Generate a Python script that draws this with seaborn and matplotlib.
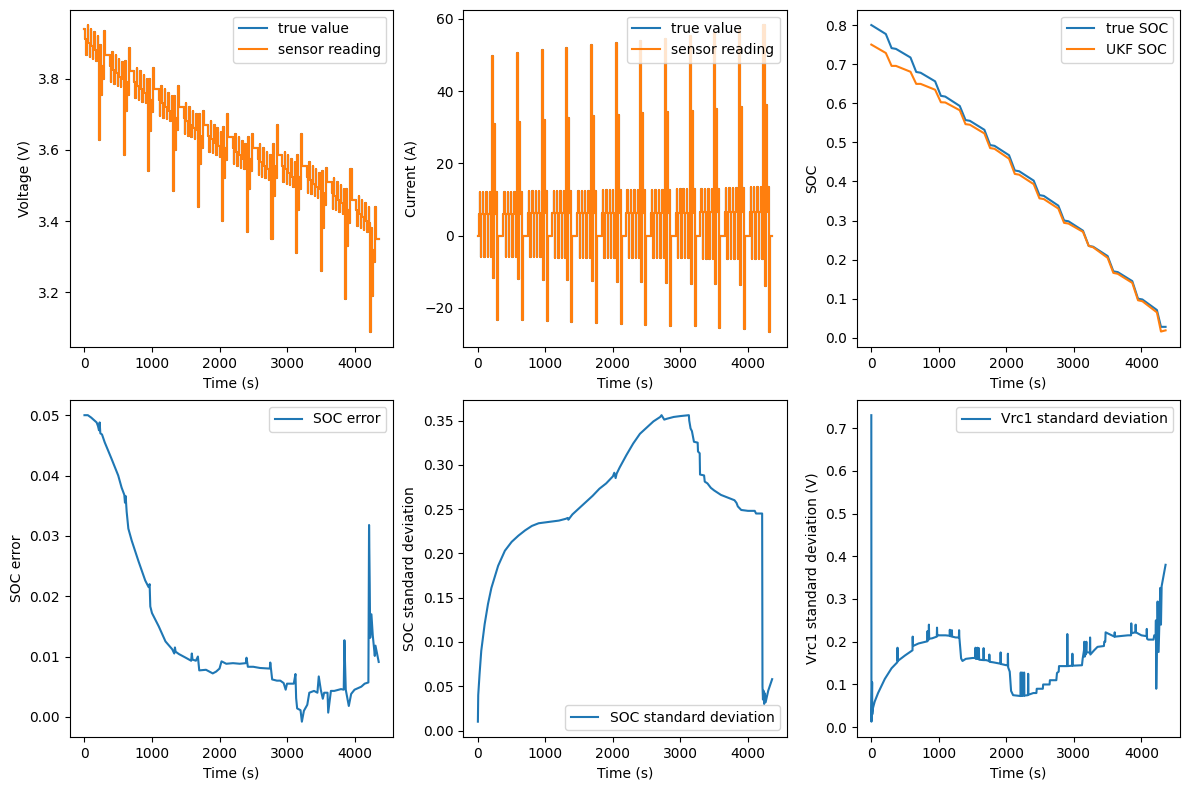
import numpy as np
import pandas as pd
import matplotlib
matplotlib.use("Agg")
import matplotlib.pyplot as plt
import seaborn as sns

# ---------------- data ----------------
# one drive cycle (period in s) and the step times inside it
cycle_period = 365
cycle_count = 12
t_end = 4358
step_offsets = [0, 10, 25, 31, 45, 51, 75, 81, 95, 101, 125, 131, 145, 151, 175, 181,
                195, 201, 215, 230, 245, 260, 270, 290, 305]
step_kinds = ["rest", "b", "h", "b", "n", "b", "h", "b", "n", "b", "h", "b", "n", "b", "h",
              "b", "n", "b", "P", "N12", "M", "b", "h", "N23", "rest"]

# current levels per cycle (A)
cur_base = [6.0, 6.05, 6.1, 6.1, 6.15, 6.2, 6.25, 6.3, 6.35, 6.4, 6.5, 6.6]
cur_hi = [12.0, 12.1, 12.2, 12.3, 12.4, 12.5, 12.6, 12.7, 12.8, 13.0, 13.2, 13.5]
cur_neg = [-5.9, -6.0, -6.0, -6.1, -6.1, -6.2, -6.2, -6.3, -6.3, -6.4, -6.5, -6.6]
cur_peak = [49.8, 50.5, 51.3, 51.9, 52.7, 53.3, 53.8, 54.5, 55.3, 56.0, 56.8, 58.3]
cur_mid = [31.0, 31.5, 32.0, 32.6, 33.0, 33.4, 33.8, 34.2, 34.6, 35.0, 35.6, 36.2]
cur_n12 = [-11.8, -12.0, -12.2, -12.4, -12.6, -12.8, -12.9, -13.1, -13.3, -13.5, -13.8, -14.0]
cur_n23 = [-23.3, -23.5, -23.8, -24.0, -24.3, -24.6, -24.8, -25.0, -25.2, -25.5, -25.8, -26.6]

# terminal voltage per cycle (V)
v_rest = [3.94, 3.865, 3.82, 3.77, 3.72, 3.67, 3.635, 3.605, 3.585, 3.555, 3.51, 3.46]
v_cluster = [0.0, -0.03, -0.075, -0.035, 0.01, -0.04, -0.08, -0.045, 0.0, -0.05,
             -0.085, -0.055, -0.01, -0.06, -0.09, -0.065, -0.02, -0.065]
v_dip = [3.628, 3.586, 3.54, 3.484, 3.44, 3.40, 3.37, 3.35, 3.31, 3.26, 3.18, 3.09]
v_mid = [3.753, 3.708, 3.653, 3.60, 3.56, 3.52, 3.49, 3.47, 3.43, 3.38, 3.33, 3.19]
v_chg = [3.933, 3.885, 3.83, 3.78, 3.71, 3.70, 3.645, 3.67, 3.645, 3.55, 3.545, 3.44]
v_end = [3.865, 3.82, 3.77, 3.72, 3.67, 3.635, 3.605, 3.585, 3.555, 3.51, 3.46, 3.35]

# SOC (true and UKF estimate)
soc_t = [0, 215, 300, 365, 580, 665, 730, 945, 1030, 1095, 1310, 1395, 1460, 1675, 1760,
         1825, 2040, 2125, 2190, 2405, 2490, 2555, 2770, 2855, 2920, 3135, 3220, 3285,
         3500, 3585, 3650, 3865, 3950, 4015, 4230, 4290, 4358]
soc_true = [0.800, 0.777, 0.741, 0.739, 0.717, 0.680, 0.678, 0.656, 0.619, 0.617, 0.593,
            0.557, 0.555, 0.532, 0.493, 0.491, 0.467, 0.428, 0.426, 0.402, 0.365, 0.363,
            0.338, 0.300, 0.298, 0.274, 0.235, 0.233, 0.209, 0.170, 0.168, 0.145, 0.100,
            0.098, 0.071, 0.028, 0.028]
soc_ukf = [0.750, 0.7285, 0.6955, 0.6955, 0.6805, 0.6495, 0.6495, 0.6345, 0.6025, 0.602,
           0.582, 0.5465, 0.545, 0.5227, 0.4853, 0.4834, 0.458, 0.4192, 0.4172, 0.393,
           0.3567, 0.3548, 0.3305, 0.294, 0.2922, 0.271, 0.235, 0.2315, 0.2045, 0.166,
           0.1637, 0.1405, 0.096, 0.0935, 0.065, 0.016, 0.019]

# SOC error
err_t = [0, 50, 100, 180, 200, 215, 225, 235, 260, 300, 400, 500, 550, 590, 600, 610, 625,
         650, 700, 800, 900, 950, 965, 975, 1000, 1100, 1200, 1300, 1330, 1340, 1350, 1400,
         1500, 1580, 1590, 1600, 1650, 1680, 1700, 1800, 1900, 1950, 2000, 2030, 2100, 2200,
         2300, 2390, 2400, 2420, 2500, 2600, 2745, 2752, 2780, 2850, 2900, 2950, 2980, 3000,
         3100, 3125, 3135, 3150, 3200, 3220, 3250, 3300, 3330, 3400, 3450, 3470, 3500, 3530,
         3550, 3600, 3610, 3650, 3700, 3800, 3840, 3850, 3870, 3915, 3950, 4000, 4100, 4150,
         4205, 4215, 4225, 4232, 4250, 4270, 4300, 4310, 4358]
err_v = [0.0500, 0.0500, 0.0496, 0.0488, 0.0482, 0.0475, 0.0488, 0.0470, 0.0468, 0.0455,
         0.0428, 0.0400, 0.0380, 0.0368, 0.0355, 0.0366, 0.0340, 0.0312, 0.0292, 0.0258,
         0.0226, 0.0215, 0.0220, 0.0183, 0.0172, 0.0150, 0.0125, 0.0112, 0.0105, 0.0115,
         0.0108, 0.0104, 0.0098, 0.0093, 0.0105, 0.0095, 0.0093, 0.0100, 0.0077, 0.0078,
         0.0072, 0.0075, 0.0080, 0.0092, 0.0088, 0.0089, 0.0088, 0.0089, 0.0098, 0.0083,
         0.0083, 0.0081, 0.0080, 0.0090, 0.0062, 0.0060, 0.0060, 0.0056, 0.0045, 0.0055,
         0.0055, 0.0071, 0.0031, 0.0014, 0.0011, -0.0008, 0.0010, 0.0020, 0.0040, 0.0043,
         0.0040, 0.0067, 0.0045, 0.0030, 0.0040, 0.0040, 0.0007, 0.0043, 0.0043, 0.0046,
         0.0045, 0.0127, 0.0045, 0.0018, 0.0038, 0.0045, 0.0050, 0.0055, 0.0057, 0.0318,
         0.0218, 0.0131, 0.0170, 0.0135, 0.0101, 0.0118, 0.0091]

# SOC standard deviation
std_t = [0, 5, 25, 50, 100, 150, 200, 300, 400, 500, 600, 700, 800, 900, 1000, 1100, 1200,
         1300, 1330, 1340, 1400, 1500, 1600, 1700, 1800, 1900, 2000, 2020, 2040, 2055, 2100,
         2200, 2300, 2400, 2500, 2600, 2700, 2720, 2760, 2800, 2900, 3000, 3125, 3130, 3150,
         3170, 3200, 3255, 3260, 3285, 3290, 3350, 3360, 3400, 3450, 3500, 3600, 3700, 3800,
         3830, 3850, 3900, 4000, 4100, 4120, 4210, 4215, 4222, 4230, 4240, 4250, 4262, 4300,
         4358]
std_v = [0.010, 0.040, 0.064, 0.090, 0.120, 0.143, 0.161, 0.186, 0.203, 0.213, 0.220,
         0.226, 0.231, 0.234, 0.235, 0.236, 0.237, 0.239, 0.240, 0.238, 0.244, 0.251, 0.258,
         0.265, 0.273, 0.279, 0.287, 0.291, 0.285, 0.290, 0.297, 0.311, 0.324, 0.335, 0.342,
         0.349, 0.354, 0.356, 0.351, 0.352, 0.354, 0.355, 0.356, 0.350, 0.341, 0.338, 0.326,
         0.325, 0.315, 0.313, 0.289, 0.288, 0.281, 0.279, 0.274, 0.271, 0.266, 0.263, 0.260,
         0.257, 0.253, 0.249, 0.248, 0.248, 0.245, 0.245, 0.050, 0.035, 0.045, 0.030, 0.042,
         0.032, 0.045, 0.058]

# Vrc1 standard deviation
vrc_t = [0, 2, 12, 14, 25, 50, 100, 200, 300, 385, 388, 392, 500, 610, 613, 617, 700, 800,
         830, 833, 836, 850, 853, 857, 900, 970, 973, 977, 1000, 1100, 1160, 1163, 1167, 1190,
         1193, 1197, 1250, 1297, 1300, 1304, 1330, 1350, 1400, 1500, 1540, 1543, 1547, 1570,
         1573, 1577, 1590, 1593, 1597, 1660, 1663, 1667, 1700, 1745, 1748, 1752, 1800, 1900,
         1912, 1915, 1919, 2000, 2020, 2023, 2027, 2050, 2070, 2100, 2210, 2213, 2217, 2230,
         2233, 2237, 2260, 2263, 2267, 2320, 2323, 2327, 2400, 2445, 2450, 2540, 2545, 2640,
         2645, 2740, 2750, 2775, 2780, 2900, 2903, 2907, 2975, 2978, 2982, 3120, 3130, 3150,
         3155, 3160, 3170, 3175, 3185, 3190, 3237, 3240, 3244, 3300, 3350, 3445, 3450, 3465,
         3470, 3600, 3605, 3610, 3800, 3847, 3850, 3854, 3912, 3915, 3919, 4000, 4077, 4080,
         4084, 4100, 4180, 4190, 4212, 4215, 4220, 4240, 4255, 4280, 4290, 4300, 4358]
vrc_v = [0.730, 0.013, 0.105, 0.030, 0.045, 0.060, 0.080, 0.113, 0.138, 0.152, 0.186,
         0.155, 0.168, 0.180, 0.212, 0.190, 0.196, 0.200, 0.201, 0.225, 0.203, 0.205, 0.240,
         0.207, 0.208, 0.212, 0.233, 0.214, 0.215, 0.215, 0.214, 0.228, 0.213, 0.213, 0.227,
         0.212, 0.210, 0.210, 0.227, 0.210, 0.161, 0.155, 0.160, 0.162, 0.162, 0.186, 0.160,
         0.160, 0.186, 0.160, 0.160, 0.185, 0.158, 0.157, 0.185, 0.157, 0.157, 0.155, 0.170,
         0.153, 0.152, 0.149, 0.149, 0.175, 0.148, 0.145, 0.145, 0.172, 0.140, 0.130, 0.085,
         0.075, 0.073, 0.128, 0.073, 0.074, 0.128, 0.074, 0.074, 0.128, 0.074, 0.075, 0.125,
         0.076, 0.080, 0.080, 0.090, 0.090, 0.100, 0.100, 0.110, 0.110, 0.127, 0.130, 0.143,
         0.143, 0.218, 0.143, 0.144, 0.172, 0.144, 0.145, 0.160, 0.180, 0.200, 0.165, 0.195,
         0.170, 0.200, 0.175, 0.175, 0.210, 0.170, 0.180, 0.188, 0.190, 0.200, 0.200, 0.222,
         0.212, 0.222, 0.212, 0.215, 0.215, 0.243, 0.220, 0.222, 0.240, 0.222, 0.215, 0.213,
         0.230, 0.207, 0.205, 0.205, 0.215, 0.215, 0.250, 0.090, 0.294, 0.176, 0.326, 0.240,
         0.330, 0.380]

# ---------------- assemble the drive-cycle traces ----------------
time_pts, cur_pts, volt_pts = [], [], []
for c in range(cycle_count):
    levels = {"rest": 0.0, "b": cur_base[c], "h": cur_hi[c], "n": cur_neg[c],
              "P": cur_peak[c], "M": cur_mid[c], "N12": cur_n12[c], "N23": cur_n23[c]}
    v_tail = [v_dip[c], v_end[c] + 0.03, v_mid[c], v_end[c] - 0.03, v_end[c] - 0.065,
              v_chg[c], v_end[c]]
    for i, (off, kind) in enumerate(zip(step_offsets, step_kinds)):
        t = c * cycle_period + off
        if t > t_end:
            break
        time_pts.append(t)
        cur_pts.append(levels[kind])
        if i < len(v_cluster):
            volt_pts.append(v_rest[c] + v_cluster[i])
        else:
            volt_pts.append(v_tail[i - len(v_cluster)])
time_pts.append(t_end)
cur_pts.append(0.0)
volt_pts.append(v_end[-1])

# ---------------- plot ----------------
blue, orange = "#1f77b4", "#ff7f0e"
fig, axes = plt.subplots(2, 3, figsize=(11.9, 7.9), dpi=100)
common = dict(estimator=None, sort=False)

ax = axes[0, 0]
sns.lineplot(x=time_pts, y=volt_pts, ax=ax, color=blue, label="true value",
             drawstyle="steps-post", **common)
sns.lineplot(x=time_pts, y=volt_pts, ax=ax, color=orange, label="sensor reading",
             drawstyle="steps-post", **common)
ax.set_xlabel("Time (s)")
ax.set_ylabel("Voltage (V)")
ax.legend(loc="upper right")

ax = axes[0, 1]
sns.lineplot(x=time_pts, y=cur_pts, ax=ax, color=blue, label="true value",
             drawstyle="steps-post", **common)
sns.lineplot(x=time_pts, y=cur_pts, ax=ax, color=orange, label="sensor reading",
             drawstyle="steps-post", **common)
ax.set_xlabel("Time (s)")
ax.set_ylabel("Current (A)")
ax.legend(loc="upper right")

ax = axes[0, 2]
sns.lineplot(x=soc_t, y=soc_true, ax=ax, color=blue, label="true SOC", **common)
sns.lineplot(x=soc_t, y=soc_ukf, ax=ax, color=orange, label="UKF SOC", **common)
ax.set_xlabel("Time (s)")
ax.set_ylabel("SOC")
ax.legend(loc="upper right")

ax = axes[1, 0]
sns.lineplot(x=err_t, y=err_v, ax=ax, color=blue, label="SOC error", **common)
ax.set_xlabel("Time (s)")
ax.set_ylabel("SOC error")
ax.legend(loc="upper right")

ax = axes[1, 1]
sns.lineplot(x=std_t, y=std_v, ax=ax, color=blue, label="SOC standard deviation", **common)
ax.set_xlabel("Time (s)")
ax.set_ylabel("SOC standard deviation")
ax.legend(loc="lower right")

ax = axes[1, 2]
sns.lineplot(x=vrc_t, y=vrc_v, ax=ax, color=blue, label="Vrc1 standard deviation", **common)
ax.set_xlabel("Time (s)")
ax.set_ylabel("Vrc1 standard deviation (V)")
ax.legend(loc="upper right")

for ax in axes.flat:
    ax.set_xticks([0, 1000, 2000, 3000, 4000])

fig.tight_layout(pad=0.7)
fig.savefig("out.png", dpi=100)
